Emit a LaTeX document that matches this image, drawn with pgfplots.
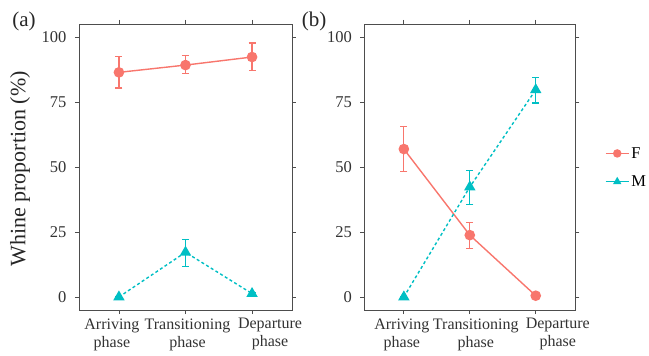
\documentclass[border=0pt]{standalone}
\usepackage{pgfplots}
\pgfplotsset{compat=1.18}
\usepackage{pgfplotstable}
\usepackage{fontspec}
\setmainfont{Liberation Serif}
\definecolor{cF}{HTML}{F8766D}
\definecolor{cM}{HTML}{00BFC4}
\definecolor{frame}{HTML}{4D4D4D}
\newcommand{\sh}[2]{\makebox[0pt]{\kern#1\kern#1#2}}

\pgfplotstableread{
x y ep em
1 86.4 6.1 6.0
2 89.2 3.6 3.3
3 92.3 5.4 5.1
}\aF
\pgfplotstableread{
x y ep em
1 0.0 0.0 0.0
2 17.2 4.8 5.4
3 1.3 0.4 0.4
}\aM
\pgfplotstableread{
x y ep em
1 56.9 8.6 8.7
2 23.8 4.9 5.0
3 0.5 0.0 0.0
}\bF
\pgfplotstableread{
x y ep em
1 0.0 0.0 0.0
2 42.3 6.2 6.8
3 79.7 4.8 5.1
}\bM

\pgfplotsset{
  panel/.style={
    scale only axis, height=286bp,
    xmin=0.4, xmax=3.6, ymin=-5, ymax=105,
    xtick={1,2,3},
    ytick={0,25,50,75,100},
    /pgf/number format/assume math mode=true,
    tick align=outside,
    major tick length=4bp,
    tick style={color=frame, line width=0.8bp},
    axis line style={color=frame, line width=0.9bp},
    xticklabel style={align=center, font=\fontsize{16bp}{18bp}\selectfont, color=black!80, yshift=-1bp},
    yticklabel style={font=\fontsize{16.5bp}{18bp}\selectfont, color=black!80, xshift=-5bp},
    every axis plot/.append style={line width=1.4bp},
    error bars/y dir=both, error bars/y explicit,
    error bars/error bar style={line width=1.2bp, solid},
    error bars/error mark options={rotate=90, line width=1.2bp, mark size=3.5bp, solid},
  },
  Fst/.style={color=cF, mark=*, mark size=4.6bp, mark options={solid}},
  Mst/.style={color=cM, mark=triangle*, mark size=5.2bp, dash pattern=on 3bp off 2.5bp, mark options={solid}},
}

\begin{document}
\begin{tikzpicture}
\path[use as bounding box] (0,0) rectangle (649bp,356bp);
\begin{axis}[panel, width=213bp, at={(79bp,46bp)}, anchor=south west,
  xticklabels={{\sh{-7bp}{Arriving}\\\sh{-7bp}{phase}},{\sh{2bp}{Transitioning}\\\sh{2bp}{phase}},{\sh{18bp}{Departure}\\\sh{18bp}{phase}}},
  ylabel={Whine proportion (\%)},
  every axis y label/.style={at={(axis description cs:-0.277,0.493)}, rotate=90, anchor=center,
    font=\fontsize{22bp}{24bp}\selectfont, color=black!85},
]
\addplot[Fst] table[x=x, y=y, y error plus=ep, y error minus=em] {\aF};
\addplot[Mst] table[x=x, y=y, y error plus=ep, y error minus=em] {\aM};
\end{axis}
\begin{axis}[panel, width=211bp, at={(364.3bp,46bp)}, anchor=south west,
  xticklabels={{\sh{-2bp}{Arriving}\\\sh{-2bp}{phase}},{\sh{6bp}{Transitioning}\\\sh{6bp}{phase}},{\sh{22bp}{Departure}\\\sh{22bp}{phase}}},
  legend style={at={(1.14,0.498)}, anchor=west, draw=none, fill=none,
    inner sep=0pt, font=\fontsize{16.5bp}{18bp}\selectfont, row sep=12bp},
  legend cell align=left,
  legend image code/.code={\draw[mark repeat=2, mark phase=2, #1, solid, line width=1.4bp, mark size=3.5bp] plot coordinates {(0bp,0bp) (11.5bp,0bp) (23bp,0bp)};},
]
\addplot[Fst] table[x=x, y=y, y error plus=ep, y error minus=em] {\bF};
\addplot[Mst] table[x=x, y=y, y error plus=ep, y error minus=em] {\bM};
\legend{F, M}
\end{axis}
\node[font=\fontsize{21bp}{23bp}\selectfont, color=black!85] at (24bp,335bp) {(a)};
\node[font=\fontsize{21bp}{23bp}\selectfont, color=black!85] at (314bp,335bp) {(b)};
\end{tikzpicture}
\end{document}
